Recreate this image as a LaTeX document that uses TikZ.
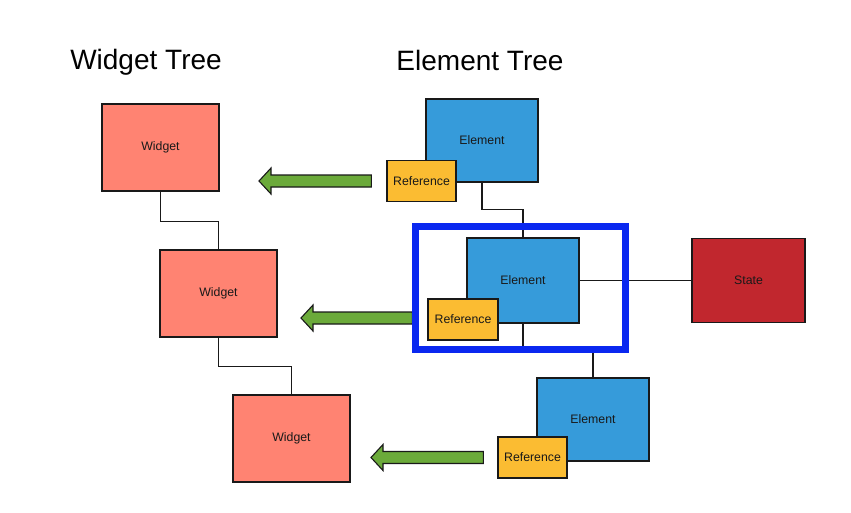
\documentclass[tikz,border=0pt]{standalone}
\usepackage{fontspec}
\setmainfont{Liberation Sans}
\usetikzlibrary{calc,backgrounds}

\definecolor{widgetred}{RGB}{255,131,114}
\definecolor{elemblue}{RGB}{54,155,218}
\definecolor{refyellow}{RGB}{251,188,50}
\definecolor{statered}{RGB}{193,39,46}
\definecolor{arrowgreen}{RGB}{107,170,58}
\definecolor{framblue}{RGB}{10,40,240}
\definecolor{ink}{RGB}{25,25,25}

\tikzset{
  box/.style={draw=ink, line width=1.2pt, rectangle, inner sep=0pt,
              font=\fontsize{12.3}{14}\selectfont, text=ink},
  widgetbox/.style={box, fill=widgetred, minimum width=117pt, minimum height=87pt},
  elembox/.style={box, fill=elemblue, minimum width=112pt, minimum height=84pt},
  refbox/.style={box, fill=refyellow, minimum width=69pt, minimum height=41pt},
  statebox/.style={box, fill=statered, minimum width=113pt, minimum height=84pt},
  link/.style={draw=ink, line width=1.25pt},
  title/.style={font=\fontsize{28}{32}\selectfont, text=black},
  backarrow/.style={fill=arrowgreen, draw=ink, line width=1.1pt, line join=miter},
  focus/.style={draw=framblue, line width=7pt, rectangle, inner sep=0pt,
                minimum width=210pt, minimum height=123pt}
}

% green block arrow pointing left, from a base point to a tip point
\newcommand{\blockarrow}[2]{%
  \path[backarrow] let \p1=(#1), \p2=(#2) in
    (\x1,\y1+6pt) -- (\x2+12pt,\y1+6pt) -- (\x2+12pt,\y1+13pt) --
    (\x2,\y1) -- (\x2+12pt,\y1-13pt) -- (\x2+12pt,\y1-6pt) --
    (\x1,\y1-6pt) -- cycle;}

\begin{document}
\begin{tikzpicture}[x=1pt,y=-1pt]
\useasboundingbox (0,0) rectangle (851,512);

% titles
\node[title] (wtitle) at (146,62) {Widget Tree};
\node[title] (etitle) at (480,60) {Element Tree};

% widget tree
\node[widgetbox] (w1) at (160.5,147.5) {Widget};
\node[widgetbox] (w2) at (218.5,293.5) {Widget};
\node[widgetbox] (w3) at (291.5,438.5) {Widget};

% element tree
\node[elembox, minimum height=83pt] (e1) at (482,140.5) {Element};
\node[elembox, minimum height=85pt] (e2) at (523,280.5) {Element};
\node[elembox, minimum height=83pt] (e3) at (593,419.5) {Element};
\node[statebox] (state) at (748.5,280.5) {State};

% references
\node[refbox] (r1) at (421.5,181) {Reference};
\node[refbox, minimum width=70pt] (r2) at (463,319.5) {Reference};
\node[refbox] (r3) at (532.5,457.5) {Reference};

% references point back to their widgets
\coordinate (a1base) at ($(r1.west)+(-15,0)$);
\coordinate (a1tip) at (259,178);
\coordinate (a2base) at ($(r2.west)+(-15,-1.5)$);
\coordinate (a2tip) at (301,318);
\coordinate (a3base) at ($(r3.west)+(-14,0)$);
\coordinate (a3tip) at (371,457);
\blockarrow{a1base}{a1tip}
\blockarrow{a2base}{a2tip}
\blockarrow{a3base}{a3tip}

% highlighted element, drawn over the end of the middle arrow
\node[focus] (frame) at (520.5,288) {};

% tree connectors, kept under the boxes
\begin{pgfonlayer}{background}
\draw[link] (w1.south) -- ++(0,30) -| (w2.north);
\draw[link] (w2.south) -- ++(0,29) -| (w3.north);
\draw[link] (e1.south) -- ++(0,27) -| (e2.north);
\draw[link] (e2.east) -- (state.west);
\draw[link] (e2.south) -- (e2.south |- frame.south);
\draw[link] (e3.north) -- (e3.north |- frame.south);
\end{pgfonlayer}
\end{tikzpicture}
\end{document}
